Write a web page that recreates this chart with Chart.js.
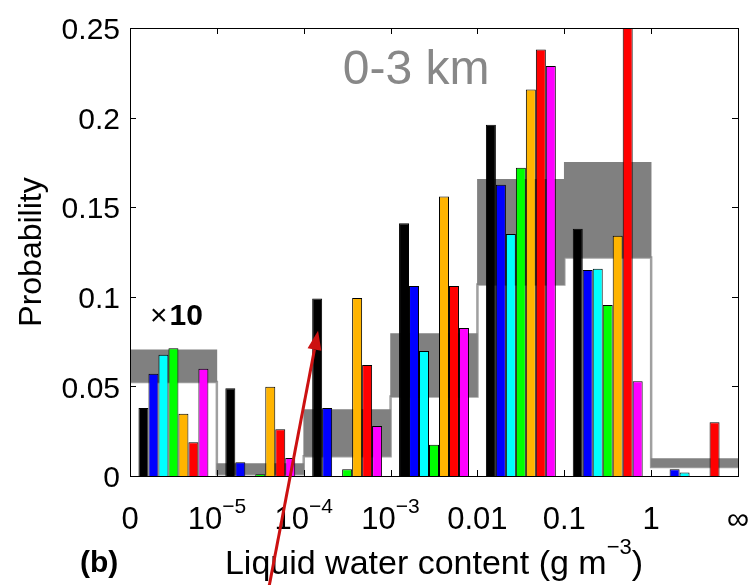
<!DOCTYPE html>
<html>
<head>
<meta charset="utf-8">
<script src="https://cdn.jsdelivr.net/npm/chart.js@4.4.1/dist/chart.umd.min.js"></script>
<style>
  html, body { margin: 0; padding: 0; background: #fff; }
  #wrap { width: 751px; height: 585px; position: relative; }
</style>
</head>
<body>
<div id="wrap"><canvas id="chart"></canvas></div>
<script>
// LWC bins (g m^-3), edges labelled below the axis
const bins = ['0–1e-5', '1e-5–1e-4', '1e-4–1e-3', '1e-3–0.01', '0.01–0.1', '0.1–1', '1–∞'];
const edgeLabels = ['0', '10', '10', '10', '0.01', '0.1', '1', '∞'];
const edgeSups = ['', '−5', '−4', '−3', '', '', '', ''];

// probability per bin for each series (first bin is scaled x10)
const blackVals = [0.038, 0.049, 0.099, 0.141, 0.196, 0.138, 0];
const blueVals = [0.057, 0.0077, 0.038, 0.106, 0.1625, 0.115, 0.0038];
const cyanVals = [0.0677, 0, 0, 0.0698, 0.135, 0.1156, 0.002];
const greenVals = [0.0713, 0.001, 0.0038, 0.0175, 0.172, 0.0954, 0];
const orangeVals = [0.0347, 0.0498, 0.0994, 0.156, 0.2157, 0.134, 0];
const redVals = [0.0188, 0.0261, 0.062, 0.106, 0.238, 0.26, 0.030];
const magentaVals = [0.0598, 0.010, 0.0279, 0.0826, 0.2288, 0.0529, 0];

// grey range band per bin
const bandLow = [0.0525, 0.001, 0.011, 0.0443, 0.1068, 0.122, 0.005];
const bandHigh = [0.0704, 0.0069, 0.037, 0.0795, 0.1656, 0.175, 0.0097];

const yTicks = [0, 0.05, 0.1, 0.15, 0.2, 0.25];

const seriesList = [
  { vals: blackVals, color: '#000000' },
  { vals: blueVals, color: '#0000ff' },
  { vals: cyanVals, color: '#00ffff' },
  { vals: greenVals, color: '#00ff00' },
  { vals: orangeVals, color: '#ffb400' },
  { vals: redVals, color: '#ff0000' },
  { vals: magentaVals, color: '#ff00ff' }
];

const FONT = '"Liberation Sans", Arial, Helvetica, sans-serif';

const barSets = seriesList.map((s, k) => ({
  type: 'bar',
  data: s.vals.map((v, i) => ({ x: i + 0.5, y: v })),
  backgroundColor: s.color,
  borderColor: '#000',
  borderWidth: 1,
  borderSkipped: 'start',
  stack: 's' + k,
  barPercentage: 1,
  categoryPercentage: 0.805,
  order: 0
}));

const bandSet = {
  type: 'bar',
  data: bins.map((b, i) => ({ x: i + 0.5, y: [bandLow[i], bandHigh[i]] })),
  backgroundColor: '#808080',
  borderWidth: 0,
  grouped: false,
  stack: 's0',
  barPercentage: 1,
  categoryPercentage: 1,
  order: 10
};

// light grey stairs along the lower edge of the band, drawn beneath it
const stairSet = {
  type: 'line',
  data: bandLow.map((v, i) => ({ x: i, y: v })).concat([{ x: bins.length, y: bandLow[bandLow.length - 1] }]),
  borderColor: '#a0a0a0',
  borderWidth: 2.5,
  pointRadius: 0,
  stepped: true,
  fill: false,
  order: 11
};

const framePlugin = {
  id: 'frame',
  afterDraw(chart) {
    const { ctx, chartArea: a, scales: { x, y } } = chart;
    ctx.save();
    ctx.strokeStyle = '#000';
    ctx.lineWidth = 1;
    ctx.strokeRect(a.left + 0.5, a.top + 0.5, a.right - a.left, a.bottom - a.top);
    ctx.beginPath();
    for (let i = 1; i < edgeLabels.length - 1; i++) {
      const px = Math.round(x.getPixelForValue(i)) + 0.5;
      ctx.moveTo(px, a.bottom); ctx.lineTo(px, a.bottom - 6);
      ctx.moveTo(px, a.top); ctx.lineTo(px, a.top + 6);
    }
    yTicks.slice(1, -1).forEach(t => {
      const py = Math.round(y.getPixelForValue(t)) + 0.5;
      ctx.moveTo(a.left, py); ctx.lineTo(a.left + 6, py);
      ctx.moveTo(a.right, py); ctx.lineTo(a.right - 6, py);
    });
    ctx.stroke();

    // x edge labels with superscripts
    ctx.fillStyle = '#000';
    ctx.textBaseline = 'alphabetic';
    ctx.textAlign = 'left';
    const baseFont = '31px ' + FONT, supFont = '21px ' + FONT;
    edgeLabels.forEach((lab, i) => {
      ctx.font = baseFont;
      const w1 = ctx.measureText(lab).width;
      ctx.font = supFont;
      const w2 = edgeSups[i] ? ctx.measureText(edgeSups[i]).width : 0;
      const cx = x.getPixelForValue(i);
      const x0 = cx - (w1 + w2) / 2;
      ctx.font = baseFont;
      ctx.fillText(lab, x0, 529);
      if (edgeSups[i]) {
        ctx.font = supFont;
        ctx.fillText(edgeSups[i], x0 + w1, 513);
      }
    });

    // x title
    const t1 = 'Liquid water content (g m', t2 = '−3', t3 = ')';
    const tf = '34px ' + FONT, sf = '22px ' + FONT;
    ctx.font = tf; const a1 = ctx.measureText(t1).width, a3 = ctx.measureText(t3).width;
    ctx.font = sf; const a2 = ctx.measureText(t2).width;
    const tx = (a.left + a.right) / 2 - (a1 + a2 + a3) / 2;
    ctx.font = tf; ctx.fillText(t1, tx, 574);
    ctx.font = sf; ctx.fillText(t2, tx + a1, 554);
    ctx.font = tf; ctx.fillText(t3, tx + a1 + a2, 574);

    // panel letter
    ctx.font = 'bold 30px ' + FONT;
    ctx.fillText('(b)', 80, 572);

    // annotations inside the axes
    ctx.font = '48px ' + FONT;
    ctx.fillStyle = '#888888';
    ctx.fillText('0-3 km', x.getPixelForValue(2.45), y.getPixelForValue(0.219));
    ctx.fillStyle = '#000';
    ctx.font = '30px ' + FONT;
    const mx = x.getPixelForValue(0.23), my = y.getPixelForValue(0.084);
    ctx.fillText('×', mx, my);
    const wx = ctx.measureText('×').width;
    ctx.font = 'bold 30px ' + FONT;
    ctx.fillText('10', mx + wx + 2, my);

    // red arrow
    const x1 = x.getPixelForValue(1.6), y1 = y.getPixelForValue(-0.062);
    const x2 = x.getPixelForValue(2.165), y2 = y.getPixelForValue(0.081);
    const ang = Math.atan2(y2 - y1, x2 - x1);
    const hl = 19, hw = 7;
    const bx = x2 - hl * Math.cos(ang), by = y2 - hl * Math.sin(ang);
    ctx.strokeStyle = '#cc1111';
    ctx.fillStyle = '#cc1111';
    ctx.lineWidth = 3;
    ctx.beginPath();
    ctx.moveTo(x1, y1); ctx.lineTo(bx, by);
    ctx.stroke();
    ctx.beginPath();
    ctx.moveTo(x2, y2);
    ctx.lineTo(bx + hw * Math.sin(ang), by - hw * Math.cos(ang));
    ctx.lineTo(bx - hw * Math.sin(ang), by + hw * Math.cos(ang));
    ctx.closePath();
    ctx.fill();
    ctx.restore();
  }
};

new Chart(document.getElementById('chart'), {
  type: 'bar',
  data: { datasets: [...barSets, bandSet, stairSet] },
  options: {
    responsive: true,
    maintainAspectRatio: false,
    animation: false,
    layout: { padding: { top: 19, right: 13, left: 0, bottom: 0 } },
    plugins: { legend: { display: false }, tooltip: { enabled: false } },
    scales: {
      x: {
        type: 'linear',
        min: 0,
        max: bins.length,
        offset: false,
        grid: { display: false, drawTicks: false, offset: false },
        border: { display: false },
        ticks: { display: false, stepSize: 1 },
        afterFit: (s) => { s.height = 109; }
      },
      y: {
        min: 0,
        max: 0.25,
        stacked: false,
        grid: { display: false, drawTicks: false },
        border: { display: false },
        afterBuildTicks: (s) => { s.ticks = yTicks.map(v => ({ value: v })); },
        ticks: {
          color: '#000',
          padding: 10,
          labelOffset: 3,
          font: { family: FONT, size: 30 },
          callback: (v) => String(v)
        },
        title: {
          display: true,
          text: 'Probability',
          color: '#000',
          font: { family: FONT, size: 32 },
          padding: { top: 13, bottom: 0 }
        },
        afterFit: (s) => { s.width = 130; }
      }
    }
  },
  plugins: [framePlugin]
});
</script>
</body>
</html>
